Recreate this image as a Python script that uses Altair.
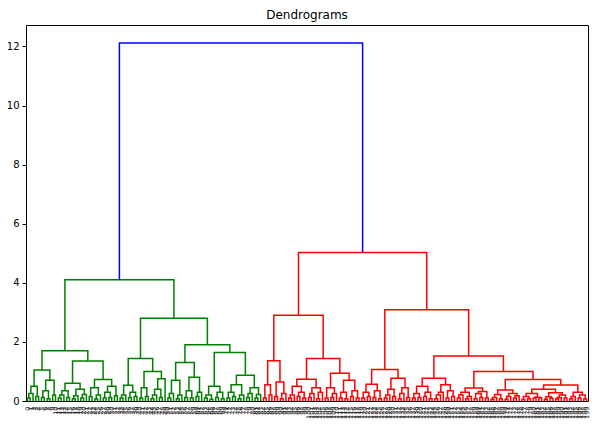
import altair as alt
import pandas as pd

# ---- dendrogram data: merge heights written as nested "(left,right)height", x = one leaf ----
GLa_l = "(((x,x)0.1,x)0.25,(x,x)0.15)0.5"
GLa_r = "(((x,x)0.12,(x,x)0.08)0.35,(x,x)0.2)0.7"
GLb_l = "((((x,x)0.1,x)0.2,(x,x)0.12)0.35,(((x,x)0.08,x)0.18,((x,x)0.1,x)0.22)0.4)0.6"
GLb_r = "(((x,x)0.15,((x,x)0.07,x)0.2)0.45,(((x,x)0.1,(x,x)0.12)0.3,(x,x)0.18)0.5)0.73"
GRa_l = "(((x,x)0.1,x)0.2,((x,x)0.12,(x,x)0.15)0.3)0.53"
GRa_r = "(((x,x)0.1,(x,x)0.15)0.45,((((x,x)0.08,x)0.2,(x,x)0.12)0.4,x)0.75)1.0"
GRbL_a = "(((x,x)0.1,x)0.25,((x,x)0.08,x)0.2)0.7"
GRbL_b = "(((x,x)0.12,(x,x)0.1)0.35,((x,x)0.15,x)0.3)0.8"
GRbR_a = "(((x,x)0.1,(x,x)0.06)0.2,((x,x)0.12,(x,x)0.08)0.3)0.5"
GRbR_b = "((((x,x)0.1,(x,x)0.15)0.3,((x,x)0.08,x)0.2)0.55,(((x,x)0.12,x)0.25,((x,x)0.1,x)0.22)0.45)0.87"

RLa_l = "((x,x)0.1,(x,x)0.2)0.55"
RLa_r = "((x,x)0.15,((x,x)0.08,x)0.25)0.64"
RLb_l = "((((x,x)0.1,x)0.2,((x,x)0.15,(x,x)0.1)0.3)0.5,(((x,x)0.12,x)0.25,((x,x)0.08,x)0.3)0.45)0.74"
RLb_r = "(((x,x)0.1,((x,x)0.12,x)0.25)0.45,(((x,x)0.1,(x,x)0.08)0.3,((x,x)0.15,(x,x)0.1)0.35)0.7)0.94"
RRa_l = "(((x,x)0.1,(x,x)0.15)0.3,((x,x)0.12,(x,x)0.08)0.35)0.57"
RRa_r = "((((x,x)0.1,x)0.2,(x,x)0.15)0.4,(((x,x)0.08,x)0.25,(x,x)0.12)0.45)0.77"
RRbL_l = "(((x,x)0.1,(x,x)0.12)0.25,((x,x)0.15,(x,x)0.08)0.3)0.5"
RRbL_r = "((((x,x)0.08,x)0.2,x)0.3,((x,x)0.1,(x,x)0.15)0.35)0.55"
RRbR_l = "((((x,x)0.1,x)0.2,((x,x)0.08,x)0.15)0.3,(((x,x)0.08,(x,x)0.12)0.25,(x,x)0.1)0.32)0.44"
RRbR_m = "((((x,x)0.05,x)0.12,(x,x)0.08)0.22,(((x,x)0.06,x)0.15,((x,x)0.1,x)0.18)0.25)0.37"
RRbR_n = "((((x,x)0.05,(x,x)0.08)0.15,((x,x)0.1,(x,x)0.11)0.13)0.25,(((x,x)0.06,(x,x)0.09)0.14,(((x,x)0.07,x)0.12,(x,x)0.1)0.2)0.28)0.4"
RRbR_o = "(((x,x)0.08,x)0.15,((x,x)0.1,(x,x)0.07)0.2)0.3"

# upper merge heights
H = {
    "GLa": 1.05, "GLb": 1.35, "GL": 1.7, "GRa": 1.44, "GRbL": 1.3, "GRbR": 1.64,
    "GRb": 1.9, "GR": 2.8, "G": 4.1,
    "RLa": 1.36, "RLb": 1.44, "RL": 2.9, "RRa": 1.07, "RRbL": 0.77, "RRbRn": 0.54,
    "RRbRr": 0.73, "RRbR": 1.0, "RRb": 1.52, "RR": 3.09, "R": 5.03, "root": 12.12,
}
Y_TICKS = [0, 2, 4, 6, 8, 10, 12]
CLUSTER_COLORS = ["#008000", "#ff0000"]
ABOVE_COLOR = "#0000ff"


def join(a, b, h):
    return "(" + a + "," + b + ")" + repr(h)


GL = join(join(GLa_l, GLa_r, H["GLa"]), join(GLb_l, GLb_r, H["GLb"]), H["GL"])
GRb = join(join(GRbL_a, GRbL_b, H["GRbL"]), join(GRbR_a, GRbR_b, H["GRbR"]), H["GRb"])
GR = join(join(GRa_l, GRa_r, H["GRa"]), GRb, H["GR"])
G = join(GL, GR, H["G"])
RL = join(join(RLa_l, RLa_r, H["RLa"]), join(RLb_l, RLb_r, H["RLb"]), H["RL"])
RRbR = join(RRbR_l, join(RRbR_m, join(RRbR_n, RRbR_o, H["RRbRn"]), H["RRbRr"]), H["RRbR"])
RRb = join(join(RRbL_l, RRbL_r, H["RRbL"]), RRbR, H["RRb"])
RR = join(join(RRa_l, RRa_r, H["RRa"]), RRb, H["RR"])
R = join(RL, RR, H["R"])
TREE = join(G, R, H["root"])


def parse(s):
    pos = 0

    def node():
        nonlocal pos
        if s[pos] == "x":
            pos += 1
            return "leaf"
        pos += 1  # (
        a = node()
        pos += 1  # ,
        b = node()
        pos += 1  # )
        j = pos
        while pos < len(s) and (s[pos].isdigit() or s[pos] == "."):
            pos += 1
        return (float(s[j:pos]), a, b)

    return node()


root = parse(TREE)
threshold = 0.7 * root[0]
leaves = []
rows = []
state = {"k": 0, "link": 0}


def lay(n, color):
    if n == "leaf":
        x = 5 + 10 * len(leaves)
        leaves.append(x)
        return x, 0.0
    h, a, b = n
    if h <= threshold:
        if color is None:
            color = CLUSTER_COLORS[state["k"] % len(CLUSTER_COLORS)]
            state["k"] += 1
        c = color
    else:
        c = ABOVE_COLOR
    xa, ya = lay(a, color)
    xb, yb = lay(b, color)
    lid = state["link"]
    state["link"] += 1
    for o, (px, py) in enumerate([(xa, ya), (xa, h), (xb, h), (xb, yb)]):
        rows.append({"link": lid, "o": o, "x": px, "y": py, "c": c})
    return (xa + xb) / 2, h


lay(root, None)
n = len(leaves)
df = pd.DataFrame(rows)

chart = alt.Chart(df).mark_line(strokeWidth=1.5, strokeCap="butt", strokeJoin="miter").encode(
    x=alt.X("x:Q", scale=alt.Scale(domain=[0, 10 * n], nice=False, zero=False),
            axis=alt.Axis(values=leaves, title=None, labelAngle=-90, labelFontSize=6.5,
                          labelOverlap=False, ticks=False, labelPadding=5, domain=False,
                          labelColor="#222222", grid=False,
                          labelExpr="'' + ((datum.value - 5) / 10)")),
    y=alt.Y("y:Q", scale=alt.Scale(domain=[0, root[0] * 1.05], nice=False, zero=True),
            axis=alt.Axis(values=Y_TICKS, title=None, labelFontSize=10, tickSize=4,
                          tickColor="#000000", labelColor="#000000", labelPadding=3,
                          domain=False, grid=False)),
    detail="link:N",
    order="o:Q",
    color=alt.Color("c:N", scale=None),
).properties(
    width=562, height=376,
    title=alt.TitleParams("Dendrograms", fontSize=12, fontWeight="normal",
                          font="DejaVu Sans", color="#000000", offset=3),
    autosize=alt.AutoSizeParams(type="none"),
    padding={"left": 18, "top": 17, "right": 9, "bottom": 18},
).configure_view(stroke="#000000", strokeWidth=1).configure_axis(
    labelFont="DejaVu Sans"
)

chart.save("out.html", embed_options={"renderer": "svg", "actions": False})
